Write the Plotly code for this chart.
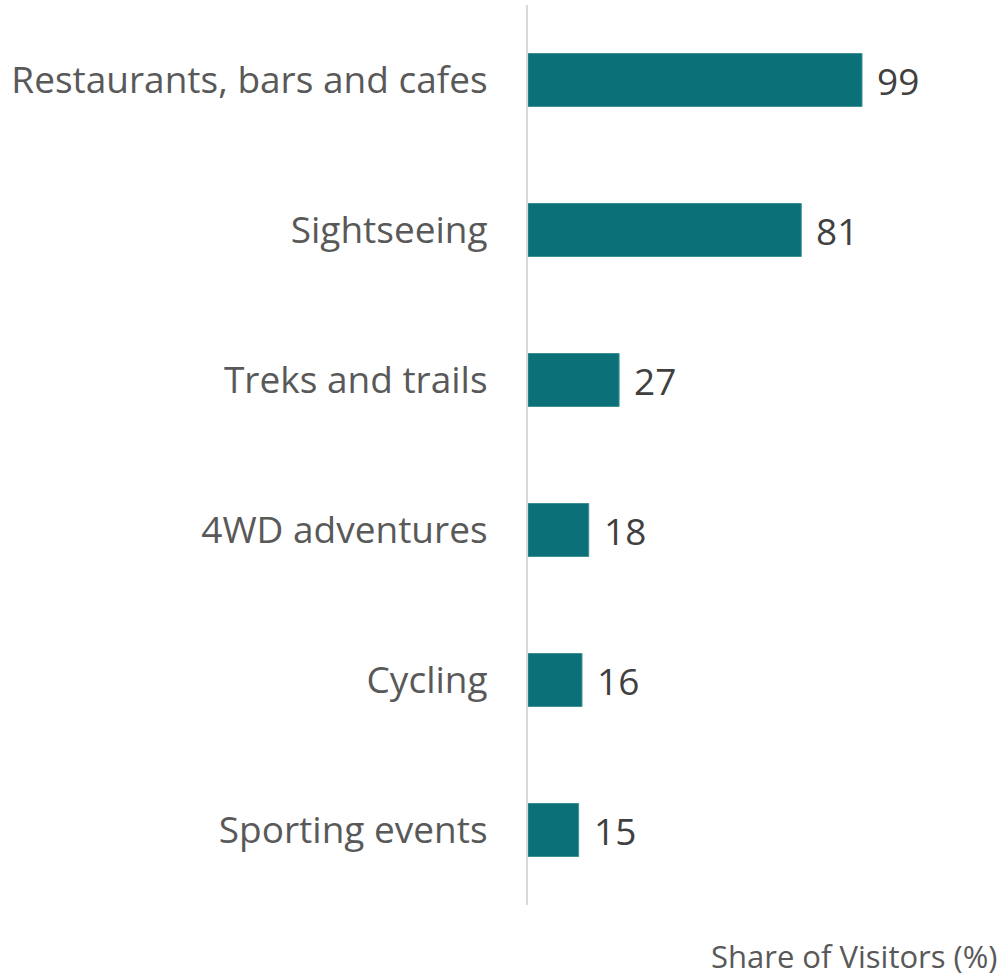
import plotly.graph_objects as go

# Share of visitors taking part in each activity (%)
activities = [
    "Restaurants, bars and cafes",
    "Sightseeing",
    "Treks and trails",
    "4WD adventures",
    "Cycling",
    "Sporting events",
]
share = [99, 81, 27, 18, 16, 15]

bar_color = "#0B7077"
font_family = "Open Sans, Noto Sans, sans-serif"

fig = go.Figure(
    go.Bar(
        x=share,
        y=activities,
        orientation="h",
        marker=dict(color=bar_color, line=dict(color="#3C9196", width=1)),
        width=0.353,
        hoverinfo="x+y",
    )
)

# value labels placed just past the end of each bar
for name, val in zip(activities, share):
    fig.add_annotation(
        x=val, y=name, text=str(val), showarrow=False,
        xanchor="left", xshift=13,
        font=dict(family=font_family, size=37, color="#404040"),
    )

fig.add_annotation(
    x=1.0, y=0, xref="paper", yref="paper", yshift=-51,
    xanchor="right", yanchor="middle",
    text="Share of Visitors (%)", showarrow=False,
    font=dict(family=font_family, size=31, color="#595959"),
)

fig.update_layout(
    width=1003, height=980,
    margin=dict(l=528, r=3, t=5, b=75),
    plot_bgcolor="white", paper_bgcolor="white",
    showlegend=False,
    xaxis=dict(range=[0, 139.9], showgrid=False, zeroline=False,
               showticklabels=False, showline=False),
    yaxis=dict(
        categoryorder="array", categoryarray=activities[::-1],
        showgrid=False, zeroline=False,
        showline=True, linecolor="#D9D9D9", linewidth=2,
        ticks="", ticklabelstandoff=31,
        tickfont=dict(family=font_family, size=37, color="#595959"),
    ),
)

fig.write_html("out.html")
